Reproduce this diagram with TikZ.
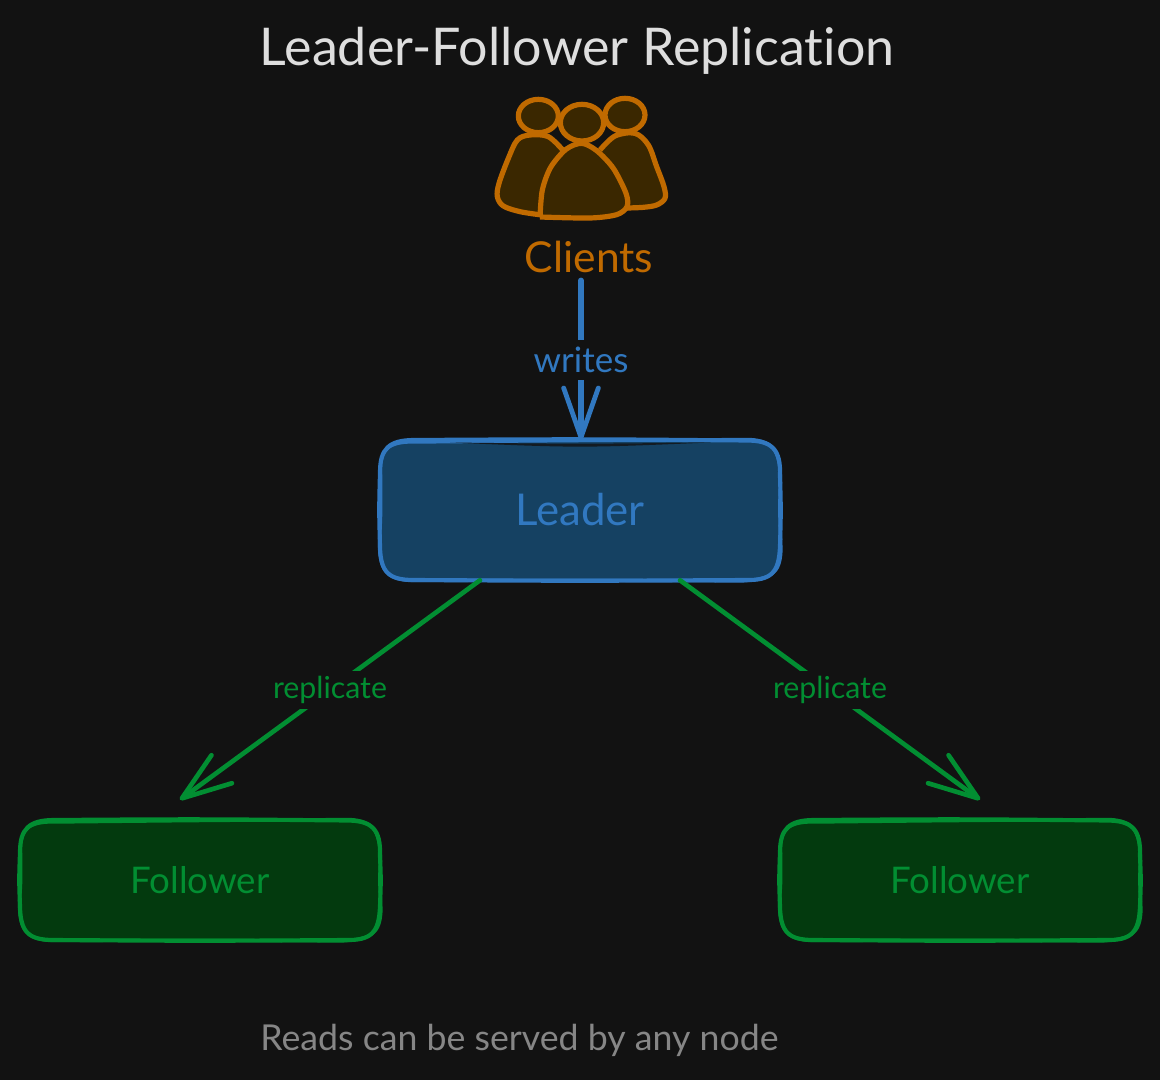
\documentclass[tikz,border=0pt]{standalone}
\usepackage{fontspec}
\setmainfont[Ligatures=NoCommon]{Lato}
\usetikzlibrary{arrows.meta,calc}
\definecolor{bgc}{HTML}{121212}
\definecolor{blues}{HTML}{3178C0}
\definecolor{bluef}{HTML}{154162}
\definecolor{greens}{HTML}{028E32}
\definecolor{greenf}{HTML}{033A0E}
\definecolor{orgs}{HTML}{C06A00}
\definecolor{orgf}{HTML}{3A2700}
\definecolor{titlec}{HTML}{DEDEDE}
\definecolor{footc}{HTML}{868686}
\newcommand{\pxfont}[1]{\fontsize{\the\dimexpr #1pt*3/4\relax}{#1pt}\selectfont}
\newcommand{\handbox}[6]{%
 % x0 y0 x1 y1 stroke fill
 \fill[#6] ({#1+34},{#2+1}) -- ({#3-34},{#2+1}) .. controls ({#3-8},{#2+1}) and ({#3},{#2+9}) .. ({#3},{#2+34})
   -- ({#3},{#4-34}) .. controls ({#3},{#4-8}) and ({#3-8},{#4}) .. ({#3-34},{#4})
   -- ({#1+34},{#4}) .. controls ({#1+8},{#4}) and ({#1},{#4-8}) .. ({#1},{#4-34})
   -- ({#1},{#2+34}) .. controls ({#1},{#2+9}) and ({#1+8},{#2+1}) .. cycle;
 \draw[#5,line width=3.1pt,line join=round,line cap=round]
   ({#1+34},{#2}) .. controls ({(#1+#3)/2},{#2-1}) .. ({#3-34},{#2+.5})
   .. controls ({#3-8},{#2+.5}) and ({#3+1},{#2+9}) .. ({#3},{#2+36})
   .. controls ({#3+1},{(#2+#4)/2}) .. ({#3},{#4-34})
   .. controls ({#3-1},{#4-7}) and ({#3-9},{#4+.5}) .. ({#3-34},{#4})
   .. controls ({(#1+#3)/2},{#4+1}) .. ({#1+34},{#4})
   .. controls ({#1+8},{#4}) and ({#1+.5},{#4-8}) .. ({#1},{#4-34})
   .. controls ({#1-1},{(#2+#4)/2}) .. ({#1},{#2+32})
   .. controls ({#1},{#2+9}) and ({#1+9},{#2}) .. ({#1+34},{#2});
 \draw[#5,line width=2.5pt,line cap=round]
   ({#1+38},{#2+2}) .. controls ({(#1+#3)/2},{#2+.5}) .. ({#3-30},{#2-.5})
   .. controls ({#3-7},{#2+1}) and ({#3-.5},{#2+10}) .. ({#3+.5},{#2+38})
   .. controls ({#3-.5},{(#2+#4)/2}) .. ({#3+1},{#4-30})
   .. controls ({#3},{#4-6}) and ({#3-9},{#4-1}) .. ({#3-38},{#4+1})
   .. controls ({(#1+#3)/2},{#4}) .. ({#1+30},{#4+.5})
   .. controls ({#1+7},{#4-1}) and ({#1-1},{#4-10}) .. ({#1-.5},{#4-38})
   .. controls ({#1+1},{(#2+#4)/2}) .. ({#1+.5},{#2+28})
   .. controls ({#1+1},{#2+8}) and ({#1+10},{#2+1}) .. ({#1+38},{#2+2});
}
\tikzset{
 x=.75pt,y=-.75pt,
 boxlabel/.style={inner sep=0pt,text=#1},
 edgelabel/.style={fill=bgc,inner sep=0pt,text=#1},
 connblue/.style={line width=4pt,color=blues,line cap=round,-{Straight Barb[length=37pt,width=26pt,line width=3.6pt,round]}},
 conngreen/.style={line width=3.5pt,color=greens,line cap=round,-{Straight Barb[length=37pt,width=26pt,line width=3.5pt,round]}},
 figure/.style={draw=orgs,fill=orgf,line width=3.9pt,line join=round},
}
\begin{document}
\begin{tikzpicture}
\fill[bgc] (0,0) rectangle (1160,1080);
\useasboundingbox (0,0) rectangle (1160,1080);

\node[inner sep=0pt,text=titlec,font=\pxfont{52}] (title) at (577,51) {Leader-Follower Replication};

% Clients figure
\begin{scope}[shift={(480,80)},x=.25pt,y=-.25pt]
\draw[figure] plot[smooth,tension=.55] coordinates {(250,212) (205,170) (150,165) (112,180) (85,235) (57,310) (52,350) (70,378) (120,395) (185,405)};
\draw[figure] plot[smooth,tension=.55] coordinates {(360,210) (405,168) (465,160) (505,195) (530,260) (552,320) (555,355) (530,375) (490,382) (440,384)};
\draw[figure] (175,108) ellipse [x radius=60,y radius=50];
\draw[figure] (435,105) ellipse [x radius=60,y radius=50];
\draw[figure] (306,128) ellipse [x radius=65,y radius=55];
\draw[figure] plot[smooth,tension=.5] coordinates {(180,411) (187,330) (212,262) (258,208) (305,190) (350,212) (400,265) (438,340) (441,380) (410,404) (330,414) (180,411)};
\end{scope}

\node[boxlabel=orgs,font=\pxfont{42.6},minimum height=34.5pt] (clients) at (589,257) {Clients};

% boxes
\handbox{380}{440}{780}{580}{blues}{bluef}
\fill[bgc!80!bluef] (450,442.5) .. controls (580,448) .. (710,442.5) .. controls (580,444) .. cycle;
\handbox{20}{820}{380}{940}{greens}{greenf}
\handbox{780}{820}{1140}{940}{greens}{greenf}

\node[boxlabel=blues,font=\pxfont{43.8},minimum width=300pt,minimum height=105pt] (leader) at (580,510) {Leader};
\node[boxlabel=greens,font=\pxfont{36.7},minimum width=270pt,minimum height=90pt] (f1) at (200,880) {Follower};
\node[boxlabel=greens,font=\pxfont{36.7},minimum width=270pt,minimum height=90pt] (f2) at (960,880) {Follower};

% connectors
\draw[connblue] ($(clients.south -| leader.north)+(1,0)$) -- node[edgelabel=blues,font=\pxfont{35},minimum width=72.75pt,minimum height=30pt] (wl) {writes} ($(leader.north)+(1,0)$);
\draw[conngreen] ($(leader.south)+(-100,0)$) -- node[edgelabel=greens,font=\pxfont{30.3},minimum width=85.5pt,minimum height=28.5pt] (r1) {replicate} ($(f1.north)+(-20,-20)$);
\draw[conngreen] ($(leader.south)+(100,0)$) -- node[edgelabel=greens,font=\pxfont{30.3},minimum width=85.5pt,minimum height=28.5pt] (r2) {replicate} ($(f2.north)+(20,-20)$);

\node[inner sep=0pt,text=footc,font=\pxfont{35.7}] (foot) at (519.5,1040) {Reads can be served by any node};
\end{tikzpicture}
\end{document}
